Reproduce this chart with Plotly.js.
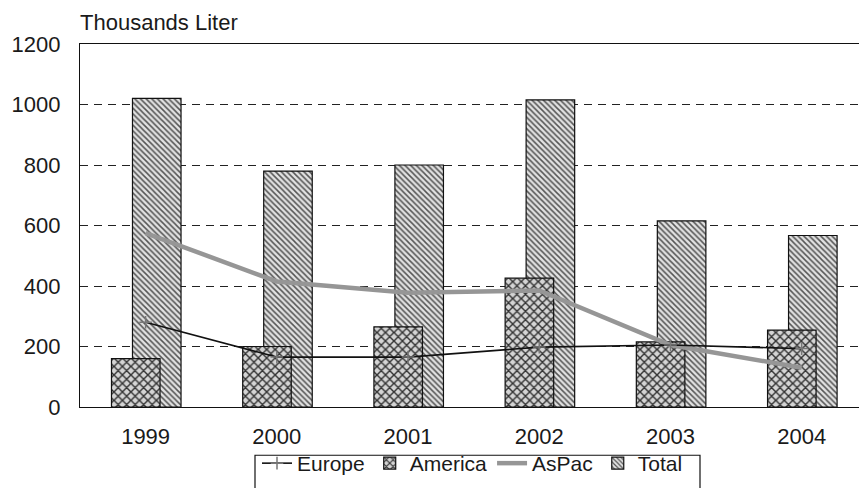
<!DOCTYPE html>
<html>
<head>
<meta charset="utf-8">
<script src="https://cdn.plot.ly/plotly-3.0.1.min.js"></script>
<style>
  html, body { margin: 0; padding: 0; background: #fff; }
  #chart { width: 859px; height: 488px; }
</style>
</head>
<body>
<div id="chart"></div>
<script>
// Annual volumes by region, thousands of liters
const years   = ['1999', '2000', '2001', '2002', '2003', '2004'];
const europe  = [280, 165, 165, 198, 205, 193];
const america = [160, 200, 265, 426, 215, 254];
const aspac   = [575, 415, 378, 385, 205, 130];
const total   = [1020, 780, 800, 1015, 615, 567];
const yTicks  = [0, 200, 400, 600, 800, 1000, 1200];

const FONT = 'Liberation Sans, Arial, sans-serif';
const BAR_W = 0.37;

// plot area in pixels, used to place the legend frame
const PLOT_L = 80, PLOT_W = 779, PLOT_B = 406.7, PLOT_H = 363.2;
const px2x = px => (px - PLOT_L) / PLOT_W;
const px2y = py => (PLOT_B - py) / PLOT_H;

const traces = [
  {
    name: 'Total', type: 'bar', x: years, y: total,
    width: BAR_W, offset: -0.10, legendrank: 4,
    marker: {
      color: '#e0e0e0',
      line: { color: '#111', width: 1.2 },
      pattern: { shape: '\\', size: 4, solidity: 0.38, fgcolor: '#555', bgcolor: '#e2e2e2' }
    }
  },
  {
    name: 'America', type: 'bar', x: years, y: america,
    width: BAR_W, offset: -0.26, legendrank: 2,
    marker: {
      color: '#d0d0d0',
      line: { color: '#111', width: 1.2 },
      pattern: { shape: 'x', size: 6, solidity: 0.42, fgcolor: '#333', bgcolor: '#d4d4d4' }
    }
  },
  {
    name: 'AsPac', type: 'scatter', mode: 'lines', x: years, y: aspac,
    legendrank: 3,
    line: { color: '#969696', width: 4.5 }
  },
  {
    name: 'Europe', type: 'scatter', mode: 'lines+markers', x: years, y: europe,
    legendrank: 1,
    line: { color: '#111', width: 1.6 },
    marker: { symbol: 'cross-thin-open', size: 9, color: '#777', line: { color: '#777', width: 1.5 } }
  }
];

const layout = {
  width: 859, height: 488,
  margin: { l: 80, r: 0, t: 43.5, b: 81.3, autoexpand: false },
  paper_bgcolor: '#fff', plot_bgcolor: '#fff',
  font: { family: FONT, size: 22, color: '#1a1a1a' },
  title: {
    text: 'Thousands Liter',
    font: { family: FONT, size: 22, color: '#1a1a1a' },
    x: 80 / 859, xanchor: 'left', xref: 'container',
    y: 1 - 22 / 488, yanchor: 'middle', yref: 'container'
  },
  barmode: 'overlay',
  showlegend: true,
  legend: {
    orientation: 'h',
    x: px2x(257), xanchor: 'left',
    yref: 'container', y: 1 - 443 / 488, yanchor: 'top',
    borderwidth: 0, bgcolor: 'rgba(0,0,0,0)',
    font: { family: FONT, size: 21, color: '#1a1a1a' },
    traceorder: 'normal', itemwidth: 30
  },
  // legend frame, running off the bottom edge
  shapes: [{
    type: 'rect', xref: 'paper', yref: 'paper', layer: 'below',
    x0: px2x(255), x1: px2x(700), y0: px2y(455), y1: px2y(500),
    line: { color: '#111', width: 1.2 }, fillcolor: '#fff'
  }],
  xaxis: {
    type: 'category',
    range: [-0.5, 5.437],
    showgrid: false, zeroline: false,
    showline: true, linecolor: '#111', linewidth: 1.2, mirror: true,
    ticks: '', ticklabelstandoff: 9,
    tickfont: { family: FONT, size: 22, color: '#1a1a1a' }
  },
  yaxis: {
    range: [0, 1200],
    tickvals: yTicks,
    showgrid: true, gridcolor: '#222', gridwidth: 1, griddash: '8px,6px',
    zeroline: false,
    showline: true, linecolor: '#111', linewidth: 1.2,
    ticks: '', ticklabelstandoff: 14,
    tickfont: { family: FONT, size: 22, color: '#1a1a1a' }
  }
};

Plotly.newPlot('chart', traces, layout, { displayModeBar: false, staticPlot: true });
</script>
</body>
</html>
